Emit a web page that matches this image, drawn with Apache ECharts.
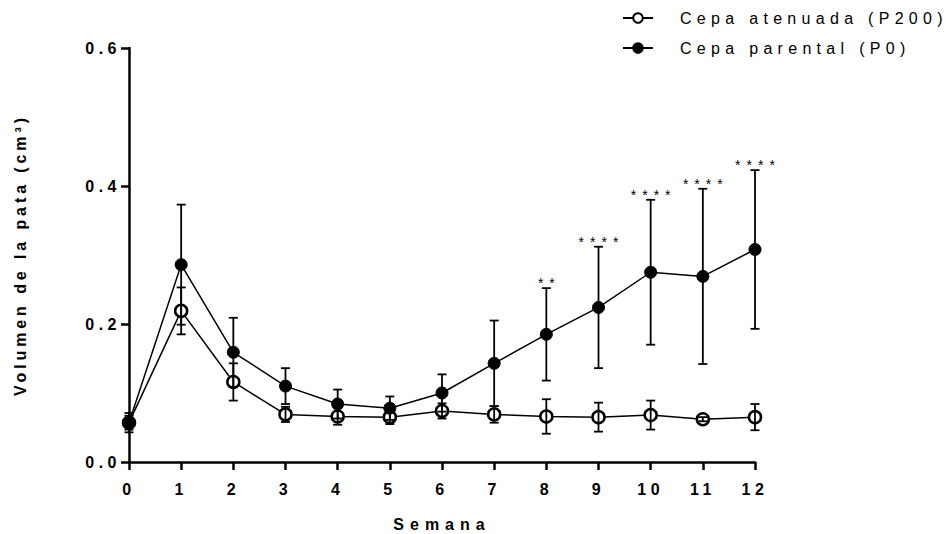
<!DOCTYPE html>
<html><head><meta charset="utf-8">
<script src="https://cdn.jsdelivr.net/npm/echarts@6/dist/echarts.min.js"></script>
<style>
html,body{margin:0;padding:0;background:#fff;}
#main{width:950px;height:534px;}
#main svg text{letter-spacing:4.5px;}
</style></head><body><div id="main"></div>
<script>
const weeks = [0,1,2,3,4,5,6,7,8,9,10,11,12];
const p200Mean = [0.057,0.219,0.116,0.069,0.066,0.065,0.074,0.069,0.066,0.065,0.068,0.062,0.065];
const p200Err  = [0.010,0.034,0.027,0.011,0.012,0.010,0.011,0.012,0.025,0.021,0.021,0.003,0.019];
const p0Mean   = [0.057,0.286,0.159,0.110,0.084,0.078,0.100,0.143,0.185,0.224,0.275,0.269,0.308];
const p0Err    = [0.014,0.087,0.050,0.026,0.021,0.017,0.027,0.062,0.067,0.088,0.105,0.127,0.115];
const signif   = ['','','','','','','','','**','****','****','****','****'];
const yTicks = [0,0.2,0.4,0.6];
const seriesNames = ['Cepa atenuada (P200)','Cepa parental (P0)'];

const FONT = '"Liberation Sans", Arial, sans-serif';
const chart = echarts.init(document.getElementById('main'), null, {renderer:'svg'});

function errorSeries(mean, err, sig, z) {
  return {
    type:'custom', z:z, silent:true,
    data: weeks.map((w,i)=>[w, mean[i], err[i]]),
    encode:{x:0, y:1},
    renderItem:function(params, api){
      const x = api.value(0), m = api.value(1), e = api.value(2);
      const hi = api.coord([x, m+e]), lo = api.coord([x, m-e]);
      const cw = 4.5;
      const st = {stroke:'#000', lineWidth:1.8};
      const children = [
        {type:'line', shape:{x1:hi[0],y1:hi[1],x2:lo[0],y2:lo[1]}, style:st},
        {type:'line', shape:{x1:hi[0]-cw,y1:hi[1],x2:hi[0]+cw,y2:hi[1]}, style:st},
        {type:'line', shape:{x1:lo[0]-cw,y1:lo[1],x2:lo[0]+cw,y2:lo[1]}, style:st}
      ];
      const s = sig ? sig[params.dataIndex] : '';
      if (s) children.push({type:'text', style:{text:s, x:hi[0]+3, y:hi[1]+2, align:'center', verticalAlign:'bottom', font:'14px '+FONT, fill:'#000'}});
      return {type:'group', children:children};
    }
  };
}

const axisCommon = {
  axisLine:{show:true, onZero:false, lineStyle:{color:'#000', width:2.5}},
  axisTick:{show:true, length:8, lineStyle:{color:'#000', width:2.5}},
  splitLine:{show:false},
};

chart.setOption({
  animation:false,
  backgroundColor:'#fff',
  grid:{left:129, right:195, top:48, bottom:72, containLabel:false, outerBoundsMode:'none'},
  legend:{
    orient:'vertical', left:622, top:10, padding:0, itemWidth:30, itemHeight:12, itemGap:14,
    data:seriesNames,
    textStyle:{fontFamily:FONT, fontSize:16, color:'#000', padding:[0,0,0,22]}
  },
  xAxis:Object.assign({
    type:'value', min:0, max:12, interval:1,
    name:'Semana', nameLocation:'middle', nameGap:54,
    nameTextStyle:{fontFamily:FONT, fontSize:16, fontWeight:'bold', color:'#000'},
    axisLabel:{fontFamily:FONT, fontSize:16, fontWeight:'bold', color:'#000', margin:19}
  }, axisCommon),
  yAxis:Object.assign({
    type:'value', min:0, max:0.6, interval:0.2,
    name:'Volumen de la pata (cm³)', nameLocation:'middle', nameGap:101,
    nameTextStyle:{fontFamily:FONT, fontSize:16, fontWeight:'bold', color:'#000'},
    axisLabel:{fontFamily:FONT, fontSize:16, fontWeight:'bold', color:'#000', margin:8,
      formatter:function(v){ return yTicks.indexOf(+v.toFixed(1))>=0 ? v.toFixed(1) : ''; }}
  }, axisCommon),
  series:[
    {
      name:seriesNames[0], type:'line', z:2,
      data:weeks.map((w,i)=>[w,p200Mean[i]]),
      symbol:'circle', symbolSize:12,
      itemStyle:{color:'#fff', borderColor:'#000', borderWidth:2.5},
      lineStyle:{color:'#000', width:1.5}
    },
    errorSeries(p200Mean, p200Err, null, 3),
    {
      name:seriesNames[1], type:'line', z:4,
      data:weeks.map((w,i)=>[w,p0Mean[i]]),
      symbol:'circle', symbolSize:12,
      itemStyle:{color:'#000', borderColor:'#000', borderWidth:1},
      lineStyle:{color:'#000', width:1.5}
    },
    errorSeries(p0Mean, p0Err, signif, 5)
  ]
});

function applySpacing(){
  document.querySelectorAll('#main svg text').forEach(function(t){
    const s = t.textContent;
    let ls = 4.5;
    if (seriesNames.indexOf(s) >= 0) ls = 5.3;
    else if (/^\*+$/.test(s)) ls = 6;
    else if (s === 'Semana') ls = 6;
    else if (s.indexOf('Volumen') === 0) ls = 3.9;
    t.style.letterSpacing = ls + 'px';
  });
}
applySpacing();
chart.on('finished', applySpacing);
</script></body></html>
